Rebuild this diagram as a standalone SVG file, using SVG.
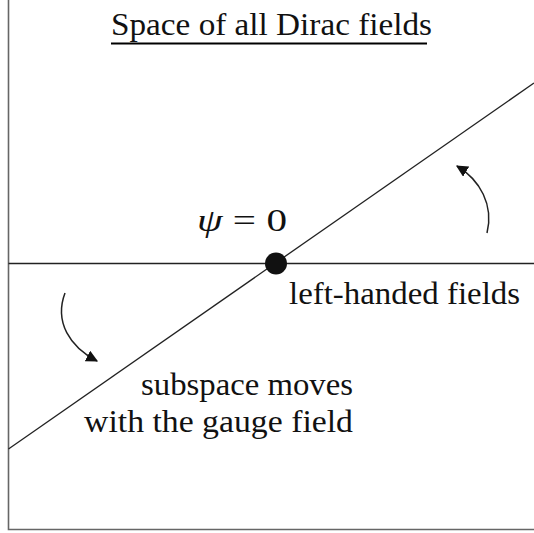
<svg xmlns="http://www.w3.org/2000/svg" width="534" height="533" viewBox="0 0 534 533">
<defs>
<style>
.t{font-family:"Liberation Serif","Times New Roman",serif;font-size:32px;fill:#111}
.frame{stroke:#666;stroke-width:1.6;fill:none}
.ln{stroke:#222;stroke-width:1.3;fill:none}
.arc{stroke:#222;stroke-width:1.5;fill:none}
</style>
<marker id="ah" viewBox="0 0 10 10" refX="9" refY="5" markerWidth="12" markerHeight="12" markerUnits="userSpaceOnUse" orient="auto">
<path d="M0,0 L10,5 L0,10 Z" fill="#111"/>
</marker>
</defs>
<g id="frame">
<path class="frame" d="M8.5,0 V529.5 H534"/>
</g>
<g id="title">
<text class="t" x="111" y="35" textLength="321" lengthAdjust="spacingAndGlyphs">Space of all Dirac fields</text>
<line x1="111" y1="43.5" x2="427" y2="43.5" stroke="#000" stroke-width="2.2"/>
</g>
<g id="connectors">
<line class="ln" x1="8.5" y1="263.5" x2="534" y2="263.5"/>
<line class="ln" x1="8.5" y1="449" x2="534" y2="83"/>
<path class="arc" d="M487,233 C494,205 480,180 457,166" marker-end="url(#ah)"/>
<path class="arc" d="M65,293 C54,322 70,347 97,361" marker-end="url(#ah)"/>
</g>
<g id="origin">
<circle cx="276" cy="263.5" r="11" fill="#111"/>
<text class="t" x="197" y="231" textLength="90" lengthAdjust="spacingAndGlyphs"><tspan font-style="italic">ψ</tspan> = 0</text>
</g>
<g id="left-handed">
<text class="t" x="289" y="304" textLength="231" lengthAdjust="spacingAndGlyphs">left-handed fields</text>
</g>
<g id="subspace">
<text class="t" x="141" y="395" textLength="212" lengthAdjust="spacingAndGlyphs">subspace moves</text>
<text class="t" x="84" y="432" textLength="269" lengthAdjust="spacingAndGlyphs">with the gauge field</text>
</g>
</svg>
